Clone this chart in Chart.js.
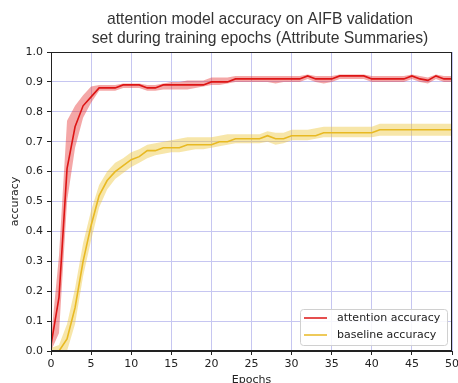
<!DOCTYPE html>
<html>
<head>
<meta charset="utf-8">
<script src="https://cdn.jsdelivr.net/npm/chart.js@4.4.1/dist/chart.umd.min.js"></script>
<style>
  html, body { margin: 0; padding: 0; background: #fff; }
  #wrap { width: 458px; height: 383px; }
</style>
</head>
<body>
<div id="wrap"><canvas id="accChart" width="458" height="383"></canvas></div>
<script>
// Epochs along the x axis
const epochs = [0, 1, 2, 3, 4, 5, 6, 7, 8, 9, 10, 11, 12, 13, 14, 15, 16, 17, 18, 19, 20,
    21, 22, 23, 24, 25, 26, 27, 28, 29, 30, 31, 32, 33, 34, 35, 36, 37, 38, 39, 40,
    41, 42, 43, 44, 45, 46, 47, 48, 49, 50];

// attention model: mean accuracy and band (min / max)
const attentionAcc = [0.02, 0.18, 0.61, 0.75, 0.82, 0.85, 0.88, 0.88, 0.88, 0.89, 0.89,
    0.89, 0.88, 0.88, 0.89, 0.89, 0.89, 0.89, 0.89, 0.89, 0.90,
    0.90, 0.90, 0.91, 0.91, 0.91, 0.91, 0.91, 0.91, 0.91, 0.91,
    0.91, 0.92, 0.91, 0.91, 0.91, 0.92, 0.92, 0.92, 0.92, 0.91,
    0.91, 0.91, 0.91, 0.91, 0.92, 0.91, 0.905, 0.92, 0.91, 0.91];
const attentionHigh = [0.04, 0.32, 0.77, 0.82, 0.855, 0.885, 0.89, 0.89, 0.89, 0.895, 0.895,
    0.895, 0.89, 0.89, 0.895, 0.90, 0.90, 0.905, 0.905, 0.905, 0.915,
    0.915, 0.915, 0.92, 0.92, 0.92, 0.92, 0.92, 0.92, 0.92, 0.92,
    0.92, 0.925, 0.92, 0.92, 0.92, 0.925, 0.925, 0.925, 0.925, 0.92,
    0.92, 0.92, 0.92, 0.92, 0.925, 0.92, 0.915, 0.925, 0.92, 0.92];
const attentionLow = [0.0, 0.06, 0.50, 0.68, 0.78, 0.83, 0.87, 0.87, 0.87, 0.88, 0.88,
    0.88, 0.87, 0.87, 0.875, 0.875, 0.875, 0.875, 0.88, 0.885, 0.89,
    0.89, 0.895, 0.90, 0.90, 0.90, 0.90, 0.90, 0.895, 0.90, 0.90,
    0.90, 0.91, 0.90, 0.895, 0.90, 0.91, 0.91, 0.91, 0.91, 0.90,
    0.90, 0.90, 0.90, 0.90, 0.91, 0.90, 0.895, 0.91, 0.90, 0.90];

// baseline model: mean accuracy and band (min / max)
const baselineAcc = [0.0, 0.0, 0.04, 0.145, 0.30, 0.42, 0.52, 0.57, 0.60, 0.62, 0.64,
    0.65, 0.67, 0.67, 0.68, 0.68, 0.68, 0.69, 0.69, 0.69, 0.69,
    0.70, 0.70, 0.71, 0.71, 0.71, 0.71, 0.72, 0.71, 0.71, 0.72,
    0.72, 0.72, 0.72, 0.73, 0.73, 0.73, 0.73, 0.73, 0.73, 0.73,
    0.74, 0.74, 0.74, 0.74, 0.74, 0.74, 0.74, 0.74, 0.74, 0.74];
const baselineHigh = [0.01, 0.02, 0.09, 0.21, 0.36, 0.47, 0.555, 0.60, 0.63, 0.645, 0.665,
    0.675, 0.69, 0.695, 0.70, 0.705, 0.71, 0.715, 0.715, 0.715, 0.715,
    0.72, 0.725, 0.725, 0.725, 0.725, 0.725, 0.735, 0.73, 0.73, 0.74,
    0.74, 0.74, 0.745, 0.75, 0.75, 0.75, 0.75, 0.75, 0.75, 0.75,
    0.76, 0.76, 0.76, 0.76, 0.76, 0.76, 0.76, 0.76, 0.76, 0.76];
const baselineLow = [0.0, 0.0, 0.0, 0.09, 0.25, 0.37, 0.48, 0.54, 0.575, 0.595, 0.615,
    0.63, 0.645, 0.655, 0.66, 0.665, 0.665, 0.67, 0.675, 0.675, 0.68,
    0.685, 0.69, 0.695, 0.695, 0.695, 0.695, 0.70, 0.69, 0.695, 0.705,
    0.705, 0.705, 0.71, 0.715, 0.715, 0.715, 0.715, 0.715, 0.715, 0.715,
    0.72, 0.72, 0.72, 0.72, 0.72, 0.72, 0.72, 0.72, 0.72, 0.72];

const titleLines = ['attention model accuracy on AIFB validation',
    'set during training epochs (Attribute Summaries)'];

const RED = '#dd1515';
const YELLOW = '#e8b923';

function toPoints(values) {
    return epochs.map((e, i) => ({ x: e, y: values[i] }));
}

// Title above the plot, two centered lines
const titlePlugin = {
    id: 'twoLineTitle',
    afterDraw(chart) {
        const ctx = chart.ctx;
        ctx.save();
        ctx.fillStyle = '#333';
        ctx.font = "15.7px 'Liberation Sans'";
        ctx.textAlign = 'center';
        ctx.textBaseline = 'middle';
        ctx.fillText(titleLines[0], 260, 20);
        ctx.fillText(titleLines[1], 260, 39);
        ctx.restore();
    }
};

// Full box around the plot area and a boxed legend in the lower right corner
const frameLegendPlugin = {
    id: 'frameLegend',
    afterDraw(chart) {
        const ctx = chart.ctx;
        const a = chart.chartArea;
        ctx.save();
        ctx.strokeStyle = '#222';
        ctx.lineWidth = 1;
        ctx.strokeRect(a.left + 0.5, a.top + 0.5, a.right - a.left - 1, a.bottom - a.top - 1);

        const entries = chart.data.datasets.filter(d => d.showInLegend);
        const bx = a.right - 152, by = a.bottom - 42, bw = 147, bh = 36;
        ctx.fillStyle = 'rgba(255,255,255,0.85)';
        ctx.strokeStyle = '#d0d0d0';
        ctx.beginPath();
        ctx.roundRect(bx + 0.5, by + 0.5, bw, bh, 3);
        ctx.fill();
        ctx.stroke();

        ctx.font = "11px 'DejaVu Sans'";
        ctx.textBaseline = 'middle';
        ctx.textAlign = 'left';
        entries.forEach((d, i) => {
            const y = by + 9 + i * 17;
            ctx.strokeStyle = d.borderColor;
            ctx.lineWidth = 1.5;
            ctx.beginPath();
            ctx.moveTo(bx + 4, y);
            ctx.lineTo(bx + 27, y);
            ctx.stroke();
            ctx.fillStyle = '#222';
            ctx.fillText(d.label, bx + 37, y);
        });
        ctx.restore();
    }
};

Chart.defaults.font.family = "'DejaVu Sans'";
Chart.defaults.font.size = 11;
Chart.defaults.color = '#222';

const gridStyle = {
    color: '#c6c6f1',
    lineWidth: 1,
    tickColor: '#222',
    tickLength: 4
};

new Chart(document.getElementById('accChart'), {
    type: 'line',
    data: {
        datasets: [
            {
                label: 'attention accuracy',
                data: toPoints(attentionAcc),
                borderColor: RED,
                borderWidth: 1.6,
                pointRadius: 0,
                fill: false,
                showInLegend: true
            },
            {
                label: 'baseline accuracy',
                data: toPoints(baselineAcc),
                borderColor: YELLOW,
                borderWidth: 1.6,
                pointRadius: 0,
                fill: false,
                showInLegend: true
            },
            {
                label: 'attention low',
                data: toPoints(attentionLow),
                borderWidth: 0,
                pointRadius: 0,
                fill: false
            },
            {
                label: 'attention high',
                data: toPoints(attentionHigh),
                borderWidth: 0,
                pointRadius: 0,
                backgroundColor: 'rgba(228,45,45,0.42)',
                fill: '-1'
            },
            {
                label: 'baseline low',
                data: toPoints(baselineLow),
                borderWidth: 0,
                pointRadius: 0,
                fill: false
            },
            {
                label: 'baseline high',
                data: toPoints(baselineHigh),
                borderWidth: 0,
                pointRadius: 0,
                backgroundColor: 'rgba(236,196,50,0.42)',
                fill: '-1'
            }
        ]
    },
    options: {
        responsive: false,
        animation: false,
        devicePixelRatio: 1,
        layout: {
            padding: { top: 52, right: 6, left: 0, bottom: 0 }
        },
        plugins: {
            legend: { display: false },
            title: { display: false },
            tooltip: { enabled: false }
        },
        scales: {
            x: {
                type: 'linear',
                min: 0,
                max: 50,
                ticks: { stepSize: 5, padding: 3, maxRotation: 0 },
                grid: gridStyle,
                border: { display: true, color: '#222' },
                title: {
                    display: true,
                    text: 'Epochs',
                    padding: { top: 0, bottom: -3.5 }
                },
                afterFit: function (scale) {
                    scale.height = 32;
                    scale.paddingLeft = 0;
                    scale.paddingRight = 0;
                }
            },
            y: {
                min: 0,
                max: 1,
                ticks: {
                    stepSize: 0.1,
                    padding: 4,
                    callback: function (value) {
                        return Number(value).toFixed(1);
                    }
                },
                grid: gridStyle,
                border: { display: true, color: '#222' },
                title: {
                    display: true,
                    text: 'accuracy',
                    padding: { top: 9, bottom: 0 }
                },
                afterFit: function (scale) {
                    scale.width = 51;
                    scale.paddingTop = 0;
                    scale.paddingBottom = 0;
                }
            }
        }
    },
    plugins: [titlePlugin, frameLegendPlugin]
});
</script>
</body>
</html>
